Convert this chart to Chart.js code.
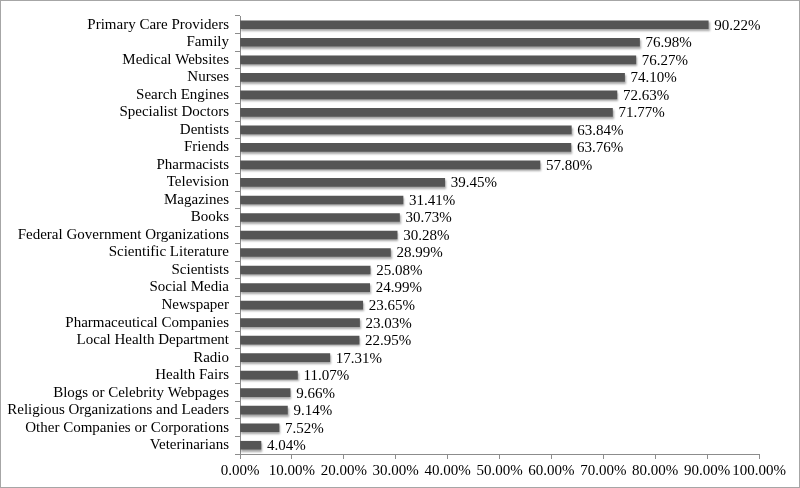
<!DOCTYPE html>
<html>
<head>
<meta charset="utf-8">
<script src="https://cdn.jsdelivr.net/npm/chart.js@4"></script>
<style>
  html, body { margin: 0; padding: 0; background: #fff; }
  #wrap { width: 798px; height: 486px; border: 1px solid #a6a6a6; position: relative; }
</style>
</head>
<body>
<div id="wrap"><canvas id="chart" width="798" height="486"></canvas></div>
<script>
const categories = [
  'Primary Care Providers', 'Family', 'Medical Websites', 'Nurses', 'Search Engines',
  'Specialist Doctors', 'Dentists', 'Friends', 'Pharmacists', 'Television',
  'Magazines', 'Books', 'Federal Government Organizations', 'Scientific Literature',
  'Scientists', 'Social Media', 'Newspaper', 'Pharmaceutical Companies',
  'Local Health Department', 'Radio', 'Health Fairs', 'Blogs or Celebrity Webpages',
  'Religious Organizations and Leaders', 'Other Companies or Corporations', 'Veterinarians'
];
const percentages = [
  90.22, 76.98, 76.27, 74.10, 72.63, 71.77, 63.84, 63.76, 57.80, 39.45,
  31.41, 30.73, 30.28, 28.99, 25.08, 24.99, 23.65, 23.03, 22.95, 17.31,
  11.07, 9.66, 9.14, 7.52, 4.04
];

const font = { family: '"Liberation Serif", "Times New Roman", serif', size: 15 };

// soft shadow behind the bars
const barShadow = {
  id: 'barShadow',
  beforeDatasetsDraw(chart) {
    const ctx = chart.ctx;
    ctx.save();
    ctx.shadowColor = 'rgba(0,0,0,0.35)';
    ctx.shadowOffsetX = 1;
    ctx.shadowOffsetY = 2;
    ctx.shadowBlur = 2;
  },
  afterDatasetsDraw(chart) {
    chart.ctx.restore();
  }
};

// value labels after the end of each bar
const valueLabels = {
  id: 'valueLabels',
  afterDatasetsDraw(chart) {
    const ctx = chart.ctx;
    const meta = chart.getDatasetMeta(0);
    ctx.save();
    ctx.font = font.size + 'px ' + font.family;
    ctx.fillStyle = '#000';
    ctx.textAlign = 'left';
    ctx.textBaseline = 'middle';
    meta.data.forEach((bar, i) => {
      ctx.fillText(percentages[i].toFixed(2) + '%', bar.x + 6, bar.y + 1);
    });
    ctx.restore();
  }
};

new Chart(document.getElementById('chart'), {
  type: 'bar',
  data: {
    labels: categories,
    datasets: [{
      data: percentages,
      backgroundColor: '#555555',
      barThickness: 8
    }]
  },
  options: {
    indexAxis: 'y',
    responsive: false,
    animation: false,
    layout: { padding: { top: 10, right: 40, bottom: 0, left: 0 } },
    plugins: {
      legend: { display: false },
      tooltip: { enabled: false }
    },
    scales: {
      x: {
        min: 0,
        max: 100,
        ticks: {
          stepSize: 10,
          autoSkip: false,
          color: '#000',
          font: font,
          padding: 3,
          maxRotation: 0,
          callback: (v) => v.toFixed(2) + '%'
        },
        grid: { drawOnChartArea: false, tickLength: 5, color: '#8c8c8c' },
        border: { color: '#8c8c8c' },
        afterFit: (scale) => { scale.height = 33; }
      },
      y: {
        ticks: { color: '#000', font: font, padding: 6, autoSkip: false },
        grid: { drawOnChartArea: false, offset: true, tickLength: 5, color: '#8c8c8c' },
        border: { color: '#8c8c8c' },
        afterFit: (scale) => { scale.width = 239; }
      }
    }
  },
  plugins: [barShadow, valueLabels]
});
</script>
</body>
</html>
